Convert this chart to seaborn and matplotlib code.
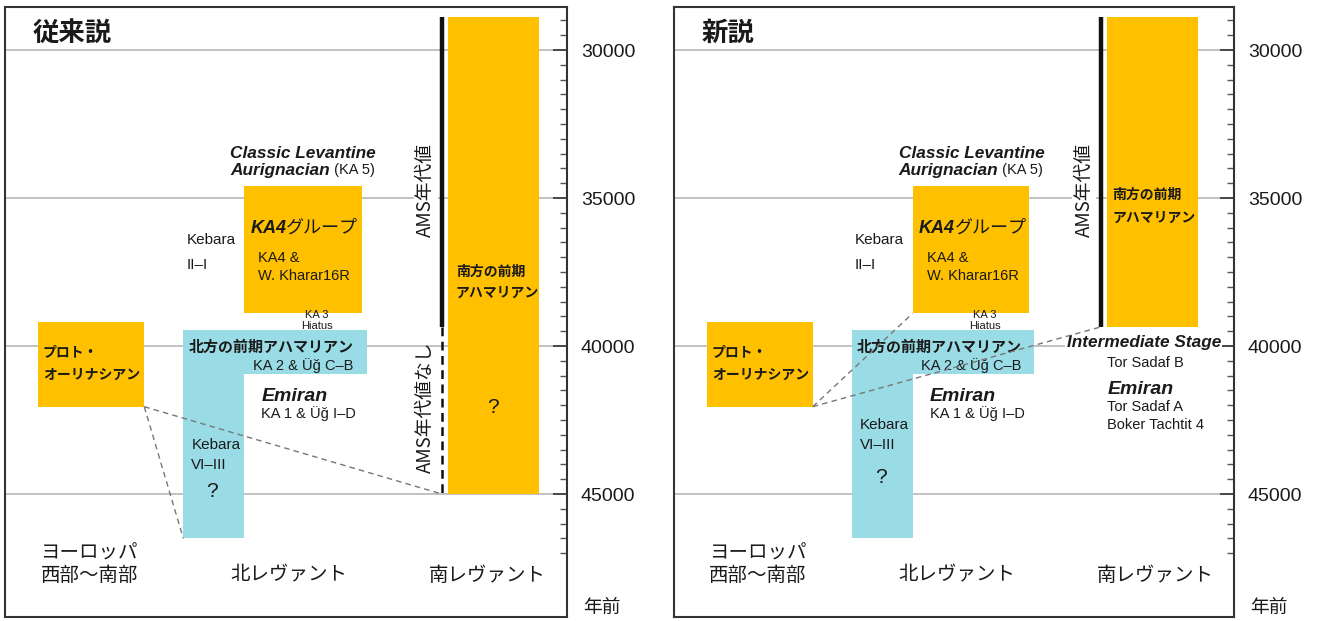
import numpy as np
import pandas as pd
import matplotlib.pyplot as plt
import seaborn as sns
from matplotlib import font_manager

# -----------------------------
# Datos (años antes del presente)
# -----------------------------
box_names = ["proto", "ka4", "n_ahmarian", "kebara_vi_iii", "s_ahmarian"]
box_colors = ["#FFC000", "#FFC000", "#9ADCE6", "#9ADCE6", "#FFC000"]
old_young = [39200, 34600, 39450, 39450, 28900]
old_old = [42050, 38900, 40950, 46500, 45000]
new_young = [39200, 34600, 39450, 39450, 28900]
new_old = [42050, 38900, 40950, 46500, 39350]

ams_old = [28900, 39350]        # AMS年代値 (línea continua)
no_ams_old = [39350, 45000]     # AMS年代値なし (línea discontinua)
ams_new = [28900, 39350]

major_ticks = [30000, 35000, 40000, 45000]
minor_ticks = list(range(29000, 47001, 500))
region_labels = ["ヨーロッパ\n西部〜南部", "北レヴァント", "南レヴァント"]
panel_titles = ["従来説", "新説"]

# -----------------------------
# Diseño (posiciones horizontales, unidades de panel)
# -----------------------------
box_x = {
    "proto": (33, 139),
    "ka4": (239, 356),
    "n_ahmarian": (178, 361),
    "kebara_vi_iii": (178, 239),
}
south_x = [(442, 533), (434, 525)]
ams_line_x = [436, 428]
ams_text_x = [420, 411]

sns.set_theme(style="white")
available = {f.name for f in font_manager.fontManager.ttflist}
NARROW = "Liberation Sans Narrow" if "Liberation Sans Narrow" in available else "Liberation Sans"
NS = 12.5 if NARROW == "Liberation Sans Narrow" else 10.5
LAT = "Liberation Sans"
JP = "Noto Sans CJK JP"
JB = 10.0  # tamaño de las etiquetas japonesas en negrita
plt.rcParams["font.family"] = [LAT, JP, "DejaVu Sans"]

fig = plt.figure(figsize=(13.21, 6.21), dpi=100)
axes = [fig.add_axes([5 / 1321, 4 / 621, 562 / 1321, 610 / 621]),
        fig.add_axes([674 / 1321, 4 / 621, 560 / 1321, 610 / 621])]


def draw_panel(ax, k, young, old):
    df = pd.DataFrame({"name": box_names, "young": young, "old": old, "color": box_colors})
    for _, r in df.iterrows():
        x0, x1 = box_x[r["name"]] if r["name"] in box_x else south_x[k]
        ax.bar(x0, r["old"] - r["young"], bottom=r["young"], width=x1 - x0,
               align="edge", color=r["color"], linewidth=0, zorder=2)
    return df.set_index("name")


def txt(ax, x, y, s, fam=NARROW, size=None, **kw):
    size = NS if size is None else size
    return ax.text(x, y, s, family=[fam, JP], fontsize=size, color="#1a1a1a",
                   va="center", zorder=5, **kw)


for k, ax in enumerate(axes):
    young, old = (old_young, old_old) if k == 0 else (new_young, new_old)
    df = draw_panel(ax, k, young, old)

    ax.set_xlim(0, 561)
    ax.set_ylim(49155, 28547)
    ax.set_xticks([])
    ax.yaxis.tick_right()
    ax.set_yticks(major_ticks)
    ax.set_yticks(minor_ticks, minor=True)
    ax.set_yticklabels([str(t) for t in major_ticks], family=LAT, fontsize=14, color="#1a1a1a")
    ax.tick_params(axis="y", which="major", direction="in", length=10, width=1.2,
                   color="#333333", pad=10, right=True, left=False)
    ax.tick_params(axis="y", which="minor", direction="in", length=5, width=1,
                   color="#555555", right=True, left=False)
    ax.grid(axis="y", which="major", color="#bcbcbc", linewidth=1.3)
    ax.set_axisbelow(True)
    for sp in ax.spines.values():
        sp.set_color("#333333")
        sp.set_linewidth(1.5)

    # título
    txt(ax, 28, 29430, panel_titles[k], fam=JP, size=19, fontweight="bold")

    # columna norte
    txt(ax, 225, 33480, "Classic Levantine", fam=LAT, size=12.4, fontweight="bold", style="italic")
    t = txt(ax, 225, 34054, "Aurignacian", fam=LAT, size=12.4, fontweight="bold", style="italic")
    ax.annotate(" (KA 5)", xy=(1, 0.5), xycoords=t, va="center", family=[NARROW, JP],
                fontsize=NS, color="#1a1a1a", zorder=5)
    t = txt(ax, 245, 36014, "KA4", fam=LAT, size=13, fontweight="bold", style="italic")
    ax.annotate("グループ", xy=(1, 0.5), xycoords=t, va="center", family=[JP],
                fontsize=13, color="#1a1a1a", zorder=5)
    txt(ax, 253, 37027, "KA4 &")
    txt(ax, 253, 37635, "W. Kharar16R")
    txt(ax, 181, 36419, "Kebara", size=NS + 0.5)
    txt(ax, 181, 37264, "II–I", size=NS + 0.5)
    txt(ax, 311, 38953, "KA 3", size=8, ha="center")
    txt(ax, 311, 39324, "Hiatus", size=8, ha="center")
    txt(ax, 183, 40034, "北方の前期アハマリアン", fam=JP, size=10.8, fontweight="bold")
    txt(ax, 348, 40642, "KA 2 & Üğ C–B", ha="right")
    txt(ax, 256, 41689, "Emiran", fam=LAT, size=14, fontweight="bold", style="italic")
    txt(ax, 256, 42264, "KA 1 & Üğ I–D")
    kb_y = [43345, 44020, 44932] if k == 0 else [42669, 43345, 44459]
    txt(ax, 186, kb_y[0], "Kebara", size=NS + 0.5)
    txt(ax, 186, kb_y[1], "VI–III", size=NS + 0.5)
    txt(ax, 207, kb_y[2], "?", fam=LAT, size=15, ha="center")

    # ヨーロッパ
    txt(ax, 38, 40220, "プロト・", fam=JP, size=JB, fontweight="bold")
    txt(ax, 38, 40980, "オーリナシアン", fam=JP, size=JB, fontweight="bold")

    # columna sur
    sx0, sx1 = south_x[k]
    lx = ams_line_x[k]
    if k == 0:
        ax.plot([lx, lx], ams_old, color="#111111", linewidth=3.2, solid_capstyle="butt", zorder=3)
        ax.plot([lx, lx], no_ams_old, color="#111111", linewidth=1.8,
                dashes=(3.5, 2.2), zorder=3)
        txt(ax, sx0 + 8, 37500, "南方の前期", fam=JP, size=JB, fontweight="bold")
        txt(ax, sx0 + 8, 38209, "アハマリアン", fam=JP, size=JB, fontweight="bold")
        txt(ax, (sx0 + sx1) / 2, 42094, "?", fam=LAT, size=15, ha="center")
        txt(ax, ams_text_x[k], 34730, "AMS年代値", fam=JP, size=13.5,
            rotation=90, ha="center",
            bbox=dict(facecolor="white", edgecolor="none", pad=1))
        txt(ax, ams_text_x[k], 42061, "AMS年代値なし", fam=JP, size=13.5,
            rotation=90, ha="center")
        # líneas de conexión
        p = df.loc["proto"]
        kb = df.loc["kebara_vi_iii"]
        corner = (box_x["proto"][1], p["old"])
        ax.plot([corner[0], box_x["kebara_vi_iii"][0]], [corner[1], kb["old"]],
                color="#777777", linewidth=1, dashes=(4, 3), zorder=4)
        ax.plot([corner[0], lx], [corner[1], no_ams_old[1]],
                color="#777777", linewidth=1, dashes=(4, 3), zorder=4)
    else:
        ax.plot([lx, lx], ams_new, color="#111111", linewidth=3.2, solid_capstyle="butt", zorder=3)
        txt(ax, sx0 + 5, 34899, "南方の前期", fam=JP, size=JB, fontweight="bold")
        txt(ax, sx0 + 5, 35676, "アハマリアン", fam=JP, size=JB, fontweight="bold")
        txt(ax, ams_text_x[k], 34730, "AMS年代値", fam=JP, size=13.5,
            rotation=90, ha="center",
            bbox=dict(facecolor="white", edgecolor="none", pad=1))
        txt(ax, 548, 39865, "Intermediate Stage", fam=LAT, size=12.4, fontweight="bold",
            style="italic", ha="right",
            bbox=dict(facecolor="white", edgecolor="none", pad=1))
        txt(ax, 434, 40574, "Tor Sadaf B")
        txt(ax, 434, 41453, "Emiran", fam=LAT, size=14, fontweight="bold", style="italic")
        txt(ax, 434, 42061, "Tor Sadaf A")
        txt(ax, 434, 42669, "Boker Tachtit 4")
        p = df.loc["proto"]
        ka4 = df.loc["ka4"]
        corner = (box_x["proto"][1], p["old"])
        ax.plot([corner[0], box_x["ka4"][0]], [corner[1], ka4["old"]],
                color="#777777", linewidth=1, dashes=(4, 3), zorder=6)
        ax.plot([corner[0], lx], [corner[1], ams_new[1]],
                color="#777777", linewidth=1, dashes=(4, 3), zorder=6)

    # regiones
    txt(ax, 84, 46993, "ヨーロッパ", fam=JP, size=14, ha="center")
    txt(ax, 84, 47736, "西部〜南部", fam=JP, size=14, ha="center")
    txt(ax, 283, 47736, region_labels[1], fam=JP, size=14, ha="center")
    txt(ax, 482, 47736, region_labels[2], fam=JP, size=14, ha="center")
    txt(ax, 577, 48818, "年前", fam=JP, size=13.5, ha="left", clip_on=False)

fig.savefig("out.png", dpi=100)
plt.close(fig)
